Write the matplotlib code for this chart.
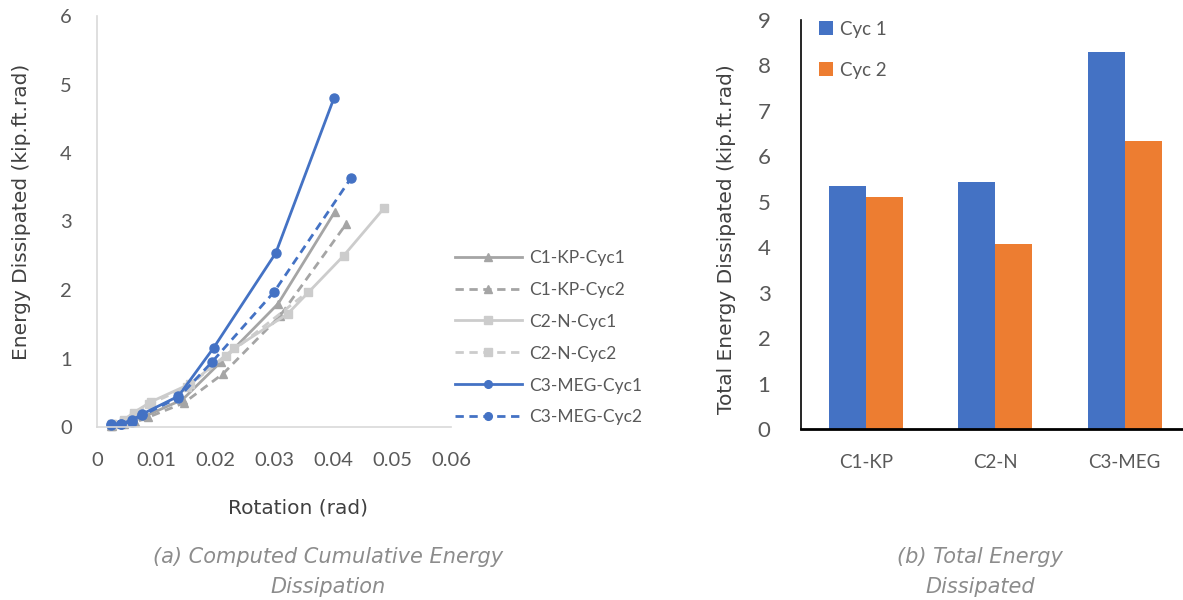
import matplotlib
matplotlib.use("Agg")
import matplotlib.pyplot as plt
import numpy as np

# ---- Data: left chart (cumulative energy) ----
c1_cyc1_rot = [0.0023, 0.0041, 0.0059, 0.0082, 0.0145, 0.0210, 0.0307, 0.0403]
c1_cyc1_e   = [0.02, 0.04, 0.08, 0.16, 0.40, 0.95, 1.80, 3.14]
c1_cyc2_rot = [0.0025, 0.0045, 0.0065, 0.0086, 0.0147, 0.0214, 0.0310, 0.0422]
c1_cyc2_e   = [0.02, 0.04, 0.07, 0.14, 0.35, 0.78, 1.62, 2.96]
c2_cyc1_rot = [0.0025, 0.0045, 0.0062, 0.0092, 0.0158, 0.0233, 0.0323, 0.0418, 0.0486]
c2_cyc1_e   = [0.05, 0.10, 0.21, 0.37, 0.63, 1.15, 1.65, 2.50, 3.19]
c2_cyc2_rot = [0.0025, 0.0045, 0.0062, 0.0088, 0.0152, 0.0218, 0.0357]
c2_cyc2_e   = [0.04, 0.09, 0.17, 0.33, 0.58, 1.03, 1.97]
c3_cyc1_rot = [0.0023, 0.0041, 0.0059, 0.0077, 0.0138, 0.0198, 0.0303, 0.0402]
c3_cyc1_e   = [0.04, 0.05, 0.10, 0.19, 0.45, 1.16, 2.54, 4.81]
c3_cyc2_rot = [0.0023, 0.0041, 0.0059, 0.0077, 0.0138, 0.0195, 0.0300, 0.0431]
c3_cyc2_e   = [0.03, 0.04, 0.08, 0.17, 0.43, 0.95, 1.97, 3.64]

series_labels = ["C1-KP-Cyc1", "C1-KP-Cyc2", "C2-N-Cyc1", "C2-N-Cyc2", "C3-MEG-Cyc1", "C3-MEG-Cyc2"]
x_ticks = [0, 0.01, 0.02, 0.03, 0.04, 0.05, 0.06]
x_tick_labels = ["0", "0.01", "0.02", "0.03", "0.04", "0.05", "0.06"]

# ---- Data: right chart (total energy) ----
categories = ["C1-KP", "C2-N", "C3-MEG"]
cyc1_total = [5.35, 5.43, 8.30]
cyc2_total = [5.10, 4.07, 6.34]

GRAY_D = "#A5A5A5"
GRAY_L = "#CCCCCC"
BLUE = "#4472C4"
ORANGE = "#ED7D31"
TXT = "#595959"
TITLE = "#404040"

W, H = 1183, 600
fig = plt.figure(figsize=(W / 100, H / 100), dpi=100)

def ax_px(l, t, r, b):
    return fig.add_axes([l / W, 1 - b / H, (r - l) / W, (b - t) / H])

def fx(px):
    return px / W

def fy(py):
    return 1 - py / H

tick_font = "Lato"
title_font = "DejaVu Sans"

# ---------- Left chart ----------
ax1 = ax_px(97, 16, 451, 427)
specs = [
    (c1_cyc1_rot, c1_cyc1_e, GRAY_D, "-", "^", 6),
    (c1_cyc2_rot, c1_cyc2_e, GRAY_D, "--", "^", 6),
    (c2_cyc1_rot, c2_cyc1_e, GRAY_L, "-", "s", 6),
    (c2_cyc2_rot, c2_cyc2_e, GRAY_L, "--", "s", 6),
    (c3_cyc1_rot, c3_cyc1_e, BLUE, "-", "o", 6.5),
    (c3_cyc2_rot, c3_cyc2_e, BLUE, "--", "o", 6.5),
]
handles = []
for (xs, ys, col, ls, mk, ms), lab in zip(specs, series_labels):
    h, = ax1.plot(xs, ys, color=col, linestyle=ls, linewidth=2, marker=mk,
                  markersize=ms, markerfacecolor=col, markeredgecolor=col,
                  label=lab, dashes=(3, 2) if ls == "--" else (None, None),
                  clip_on=False)
    handles.append(h)
ax1.set_xlim(0, 0.06)
ax1.set_ylim(0, 6)
ax1.set_xticks(x_ticks)
ax1.set_xticklabels(x_tick_labels)
ax1.set_yticks(range(0, 7))
for s in ["top", "right"]:
    ax1.spines[s].set_visible(False)
for s in ["left", "bottom"]:
    ax1.spines[s].set_color("#D9D9D9")
    ax1.spines[s].set_linewidth(1.2)
ax1.tick_params(length=0, labelsize=14.5, labelcolor=TXT)
ax1.tick_params(axis="x", pad=18)
ax1.tick_params(axis="y", pad=18)
for lbl in ax1.get_xticklabels() + ax1.get_yticklabels():
    lbl.set_fontfamily(tick_font)

fig.text(fx(298), fy(508), "Rotation (rad)", ha="center", va="center",
         fontsize=14.5, color=TITLE, family=title_font)
fig.text(fx(22), fy(212), "Energy Dissipated (kip.ft.rad)", ha="center", va="center",
         rotation=90, fontsize=14.5, color=TITLE, family=title_font)

ax1.legend(handles=handles, loc="upper left", bbox_to_anchor=(fx(439), fy(234)),
           bbox_transform=fig.transFigure, frameon=False, prop={"family": tick_font, "size": 12.5},
           handlelength=3.9, handletextpad=0.4, labelspacing=0.92, labelcolor=TXT,
           markerscale=0.85)

# ---------- Right chart ----------
ax2 = ax_px(801, 20, 1183, 429)
x = np.arange(len(categories))
bw = 0.286
ax2.bar(x - bw / 2, cyc1_total, width=bw, color=BLUE, label="Cyc 1")
ax2.bar(x + bw / 2, cyc2_total, width=bw, color=ORANGE, label="Cyc 2")
ax2.set_xlim(-0.5, 2.45)
ax2.set_ylim(0, 9)
ax2.set_yticks(range(0, 10))
ax2.set_xticks(x)
ax2.set_xticklabels(categories)
for s in ["top", "right"]:
    ax2.spines[s].set_visible(False)
ax2.spines["left"].set_color("black")
ax2.spines["left"].set_linewidth(1.2)
ax2.spines["bottom"].set_color("black")
ax2.spines["bottom"].set_linewidth(2)
ax2.tick_params(length=0, labelcolor=TXT)
ax2.tick_params(axis="y", pad=22, labelsize=16)
ax2.tick_params(axis="x", pad=18, labelsize=13.5)
for lbl in ax2.get_xticklabels() + ax2.get_yticklabels():
    lbl.set_fontfamily(tick_font)
fig.text(fx(727), fy(239), "Total Energy Dissipated (kip.ft.rad)", ha="center", va="center",
         rotation=90, fontsize=14.5, color=TITLE, family=title_font)
ax2.legend(loc="upper left", bbox_to_anchor=(fx(802), fy(4)), bbox_transform=fig.transFigure,
           frameon=False, prop={"family": tick_font, "size": 13.5}, handlelength=0.75, handleheight=0.75,
           handletextpad=0.35, labelspacing=1.28, labelcolor=TXT)

# ---------- Captions ----------
fig.text(fx(328), fy(572), "(a) Computed Cumulative Energy\nDissipation", ha="center", va="center",
         fontsize=15, style="italic", color="#8C8C8C", family=title_font, linespacing=1.6)
fig.text(fx(980), fy(572), "(b) Total Energy\nDissipated", ha="center", va="center",
         fontsize=15, style="italic", color="#8C8C8C", family=title_font, linespacing=1.6)

fig.savefig("out.png", dpi=100)
